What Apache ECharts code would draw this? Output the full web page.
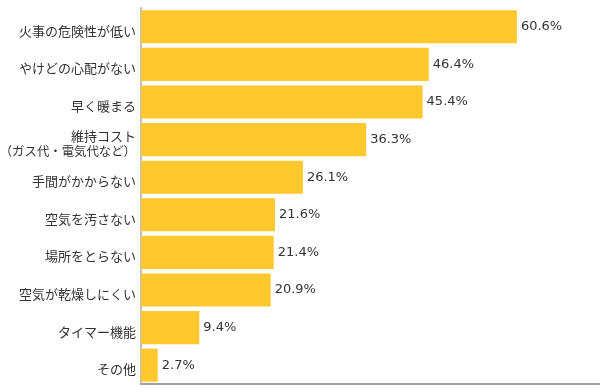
<!DOCTYPE html>
<html>
<head>
<meta charset="utf-8">
<script src="https://cdn.jsdelivr.net/npm/echarts@6/dist/echarts.min.js"></script>
<style>html,body{margin:0;padding:0;background:#fff}#c{width:600px;height:392px}</style>
</head>
<body>
<div id="c"></div>
<script>
var categories = ["火事の危険性が低い","やけどの心配がない","早く暖まる","維持コスト\n（ガス代・電気代など）","手間がかからない","空気を汚さない","場所をとらない","空気が乾燥しにくい","タイマー機能","その他"];
var values = [60.6,46.4,45.4,36.3,26.1,21.6,21.4,20.9,9.4,2.7];
var chart = echarts.init(document.getElementById('c'));
chart.setOption({
  animation:false,
  grid:{left:141,right:0,top:8,bottom:8,containLabel:false,outerBoundsMode:'none'},
  xAxis:{type:'value',min:0,max:74,axisLabel:{show:false},axisTick:{show:false},splitLine:{show:false},
    axisLine:{show:true,lineStyle:{color:'#a0a0a0',width:2}}},
  yAxis:{type:'category',data:categories,inverse:true,axisTick:{show:false},
    axisLine:{show:true,lineStyle:{color:'#c0c0c0',width:2}},
    axisLabel:{margin:5,color:'#333',fontSize:13,lineHeight:16,padding:[8,0,0,0],
      fontFamily:'"Noto Sans CJK JP", sans-serif',align:'right',
      formatter:function(v){
        var parts=v.split('\n');
        if(parts.length===1) return v;
        return '{a|'+parts[0]+'}\n{b|'+parts[1]+'}';
      },
      rich:{a:{fontSize:13,lineHeight:15,color:'#333',fontFamily:'"Noto Sans CJK JP", sans-serif'},
            b:{fontSize:12.4,lineHeight:15,color:'#333',fontFamily:'"Noto Sans CJK JP", sans-serif'}}},
  },
  series:[{type:'bar',data:values,barCategoryGap:'12%',itemStyle:{color:'#FFC82C'},
    label:{show:true,position:'right',distance:4,formatter:function(p){return p.value.toFixed(1)+'%';},
      color:'#333',fontSize:13,fontFamily:'"DejaVu Sans", sans-serif'}}]
});
</script>
</body>
</html>
